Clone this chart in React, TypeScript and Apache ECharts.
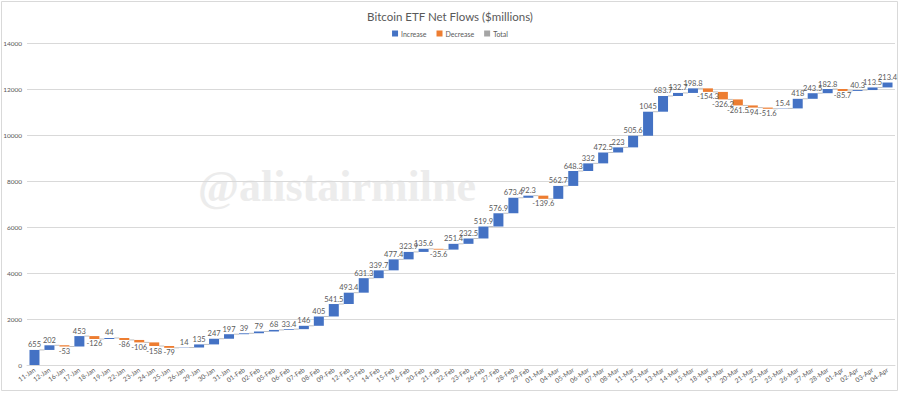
import React, { useEffect, useRef } from "react";
import * as echarts from "echarts";

const categories = [
  "11-Jan", "12-Jan", "16-Jan", "17-Jan", "18-Jan", "19-Jan", "22-Jan", "23-Jan", "24-Jan", "25-Jan",
  "26-Jan", "29-Jan", "30-Jan", "31-Jan", "01-Feb", "02-Feb", "05-Feb", "06-Feb", "07-Feb", "08-Feb",
  "09-Feb", "12-Feb", "13-Feb", "14-Feb", "15-Feb", "16-Feb", "20-Feb", "21-Feb", "22-Feb", "23-Feb",
  "26-Feb", "27-Feb", "28-Feb", "29-Feb", "01-Mar", "04-Mar", "05-Mar", "06-Mar", "07-Mar", "08-Mar",
  "11-Mar", "12-Mar", "13-Mar", "14-Mar", "15-Mar", "18-Mar", "19-Mar", "20-Mar", "21-Mar", "22-Mar",
  "25-Mar", "26-Mar", "27-Mar", "28-Mar", "01-Apr", "02-Apr", "03-Apr", "04-Apr",
];

const flows = [
  655, 202, -53, 453, -126, 44, -86, -106, -158, -79,
  14, 135, 247, 197, 39, 79, 68, 33.4, 146, 405,
  541.5, 493.4, 631.3, 339.7, 477.4, 323.9, 135.6, -35.6, 251.4, 232.5,
  519.9, 576.9, 673.4, 92.3, -139.6, 562.7, 648.3, 332, 472.5, 223,
  505.6, 1045, 683.7, 132.7, 198.8, -154.3, -326.2, -261.5, -94, -51.6,
  15.4, 418, 243.5, 182.8, -85.7, 40.3, 113.5, 213.4,
];

const legendNames = ["Increase", "Decrease", "Total"];
const colors = { inc: "#4472C4", dec: "#ED7D31", total: "#A5A5A5" };

const FONT = "Lato";
const TXT = "#595959";

export default function App() {
  const ref = useRef<HTMLDivElement>(null);

  useEffect(() => {
    const chart = echarts.init(ref.current!, null, { renderer: "svg" });
    const cum: number[] = [];
    let run = 0;
    flows.forEach((v) => {
      run += v;
      cum.push(run);
    });
    const base = flows.map((v, i) => (v >= 0 ? cum[i] - v : cum[i]));
    const inc = flows.map((v) => (v >= 0 ? v : "-"));
    const dec = flows.map((v) => (v < 0 ? -v : "-"));
    const BW = 10;

    const labelStyle = {
      show: true,
      distance: 1,
      fontSize: 7.5,
      color: TXT,
      fontFamily: FONT,
      textBorderWidth: 0,
      textBorderColor: "transparent",
    };

    chart.setOption({
      animation: false,
      textStyle: { fontFamily: FONT },
      title: {
        text: "Bitcoin ETF Net Flows ($millions)",
        left: "center",
        top: 5,
        textStyle: { fontFamily: FONT, fontSize: 11.5, fontWeight: "normal", color: TXT },
      },
      legend: {
        data: legendNames,
        top: 25,
        left: "center",
        itemWidth: 6,
        itemHeight: 6,
        itemGap: 10,
        icon: "rect",
        textStyle: { fontFamily: FONT, fontSize: 7, color: TXT, padding: [0, 0, 0, -2] },
      },
      graphic: [
        {
          type: "rect",
          shape: { x: 1.5, y: 1.5, width: 896, height: 389 },
          style: { fill: "none", stroke: "#d9d9d9", lineWidth: 1 },
          silent: true,
          z: -10,
        },
        {
          type: "text",
          x: 337,
          y: 186,
          style: {
            text: "@alistairmilne",
            font: 'bold 44px "Liberation Serif"',
            fill: "#ececec",
            textAlign: "center",
            textVerticalAlign: "middle",
          },
          silent: true,
          z: -5,
        },
      ],
      grid: { left: 27, right: 5, top: 43, bottom: 28, containLabel: false },
      xAxis: {
        type: "category",
        data: categories,
        axisLine: { lineStyle: { color: "#d9d9d9" } },
        axisTick: { show: false },
        axisLabel: {
          interval: 0,
          rotate: 35,
          fontSize: 6.5,
          color: TXT,
          margin: 4,
          fontFamily: FONT,
        },
      },
      yAxis: {
        type: "value",
        min: 0,
        max: 14000,
        interval: 2000,
        axisLine: { show: false },
        axisTick: { show: false },
        splitLine: { lineStyle: { color: "#d9d9d9", width: 1 } },
        axisLabel: {
          fontSize: 6.5,
          color: TXT,
          margin: 5,
          fontFamily: FONT,
          formatter: (v: number) => String(v),
        },
      },
      series: [
        {
          name: "base",
          type: "bar",
          stack: "wf",
          barWidth: BW,
          itemStyle: { color: "transparent" },
          emphasis: { disabled: true },
          data: base,
          silent: true,
          z: 2,
        },
        {
          name: "Increase",
          type: "bar",
          stack: "wf",
          barWidth: BW,
          itemStyle: { color: colors.inc },
          data: inc,
          z: 3,
          label: {
            ...labelStyle,
            position: "top",
            formatter: (p: any) => "{t|" + String(p.value) + "}",
            rich: { t: { color: TXT, fontSize: 7.5, fontFamily: FONT } },
          },
        },
        {
          name: "Decrease",
          type: "bar",
          stack: "wf",
          barWidth: BW,
          itemStyle: { color: colors.dec },
          data: dec,
          z: 3,
          label: {
            ...labelStyle,
            position: "bottom",
            formatter: (p: any) => "{t|-" + String(p.value) + "}",
            rich: { t: { color: TXT, fontSize: 7.5, fontFamily: FONT } },
          },
        },
        {
          name: "Total",
          type: "bar",
          stack: "wf",
          barWidth: BW,
          itemStyle: { color: colors.total },
          data: [],
        },
        {
          name: "connectors",
          type: "custom",
          silent: true,
          z: 1,
          renderItem: (params: any, api: any) => {
            const i = api.value(0);
            const y = api.value(1);
            const p0 = api.coord([i, y]);
            const p1 = api.coord([i + 1, y]);
            const hw = BW / 2;
            return {
              type: "line",
              shape: { x1: p0[0] + hw, y1: p0[1], x2: p1[0] - hw, y2: p1[1] },
              style: { stroke: "#bfbfbf", lineWidth: 1 },
            };
          },
          data: cum.slice(0, -1).map((c, i) => [i, c]),
        },
      ],
    });
    return () => chart.dispose();
  }, []);

  return (
    <div
      ref={ref}
      style={{ position: "absolute", left: 0, top: 0, width: 900, height: 393, background: "#fff" }}
    />
  );
}
